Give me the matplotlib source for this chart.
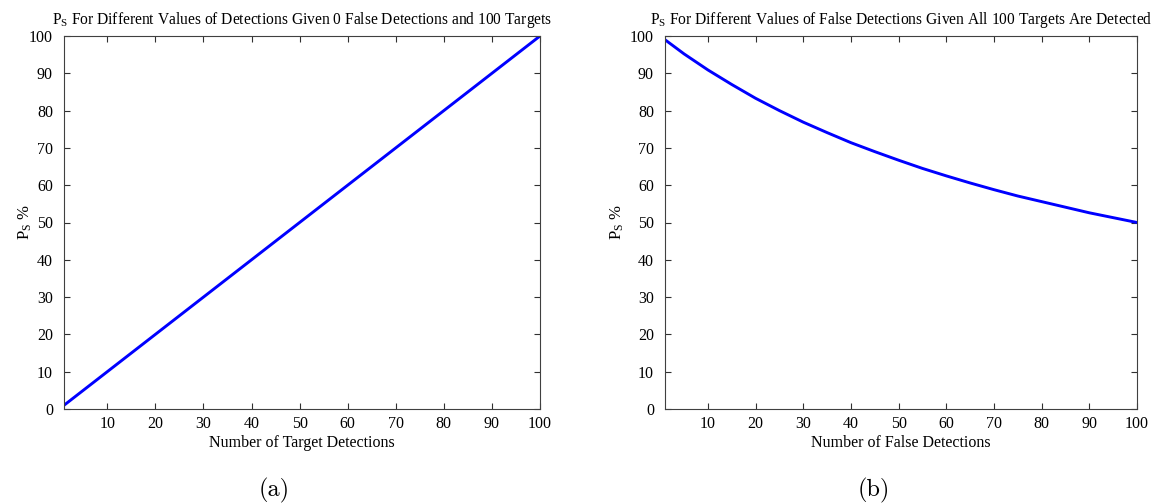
import matplotlib
matplotlib.use("Agg")
import matplotlib.pyplot as plt

plt.rcParams["font.family"] = ["Liberation Serif", "DejaVu Serif"]
plt.rcParams["mathtext.default"] = "regular"

# Success percentage vs. number of target detections (0 false detections, 100 targets)
detections = [1, 10, 20, 30, 40, 50, 60, 70, 80, 90, 100]
ps_detections = [1, 10, 20, 30, 40, 50, 60, 70, 80, 90, 100]

# Success percentage vs. number of false detections (all 100 targets detected)
false_detections = [1, 5, 10, 15, 20, 25, 30, 35, 40, 45, 50,
                    55, 60, 65, 70, 75, 80, 85, 90, 95, 100]
ps_false = [99.0, 95.2, 90.9, 87.0, 83.3, 80.0, 76.9, 74.1, 71.4, 69.0, 66.7,
            64.5, 62.5, 60.6, 58.8, 57.1, 55.6, 54.1, 52.6, 51.3, 50.0]

x_ticks = [10, 20, 30, 40, 50, 60, 70, 80, 90, 100]
y_ticks = [0, 10, 20, 30, 40, 50, 60, 70, 80, 90, 100]

titles = [
    "P$_S$ For Different Values of Detections Given 0 False Detections and 100 Targets",
    "P$_S$ For Different Values of False Detections Given All 100 Targets Are Detected",
]
xlabels = ["Number of Target Detections", "Number of False Detections"]
panel_tags = ["(a)", "(b)"]
tag_x = [274 / 1156, 874 / 1156]
ylabel_x = [-0.064, -0.082]

W, H = 1156, 504
fig = plt.figure(figsize=(W / 100, H / 100), dpi=100)
ax_a = fig.add_axes([64 / W, 1 - 409 / H, (540 - 64) / W, (409 - 36) / H])
ax_b = fig.add_axes([665 / W, 1 - 409 / H, (1137 - 665) / W, (409 - 36) / H])

series = [(detections, ps_detections), (false_detections, ps_false)]

for i, ax in enumerate([ax_a, ax_b]):
    xs, ys = series[i]
    ax.plot(xs, ys, color="#0000ff", linewidth=2.1, solid_capstyle="round")
    ax.set_xlim(1, 100)
    ax.set_ylim(0, 100)
    ax.set_xticks(x_ticks)
    ax.set_yticks(y_ticks)
    ax.tick_params(direction="in", top=True, right=True, length=4, width=0.8,
                   labelsize=11.5, colors="#303030", labelcolor="black")
    ax.tick_params(axis="y", pad=8)
    ax.tick_params(axis="x", pad=5)
    for sp in ax.spines.values():
        sp.set_color("#404040")
        sp.set_linewidth(0.8)
    ax.set_title(titles[i], fontsize=11.2, pad=9)
    ax.set_xlabel(xlabels[i], fontsize=11.5, labelpad=2)
    ax.set_ylabel("P$_S$ %", fontsize=12)
    ax.yaxis.set_label_coords(ylabel_x[i], 0.5)
    fig.text(tag_x[i], 1 - 490 / H, panel_tags[i], ha="center", va="center",
             fontsize=17.5, family="cmr10")

fig.savefig("out.png", dpi=100)
